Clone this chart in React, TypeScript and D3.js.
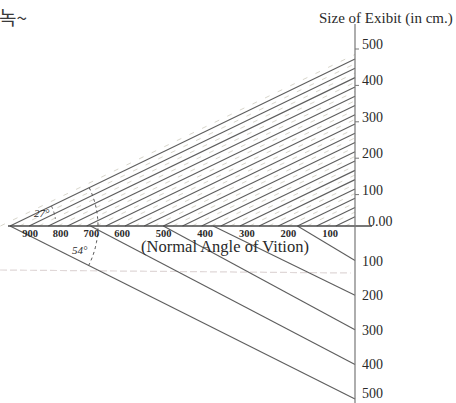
import React from "react";
import * as d3 from "d3";

// ---- data ----
const baselineDistances = [900, 800, 700, 600, 500, 400, 300, 200, 100];
const upperSizes = [0, 100, 200, 300, 400, 500];
const lowerSizes = [100, 200, 300, 400, 500];
const guideDistances = [50, 100, 150, 200, 250, 300, 350, 400, 450, 500, 550, 600, 650, 700, 750, 800, 850, 900];
const faintDistances = [25, 75, 125, 175, 225, 275, 325, 375, 425, 475, 525, 575, 625, 675, 725, 775, 825, 875, 925];
const lowerStartDistances = [150, 370, 500, 690, 900];
const halfAngleDeg = 27;
const fullAngleDeg = 54;

const W = 456;
const H = 403;

export default function App() {
  const tanA = Math.tan((halfAngleDeg * Math.PI) / 180);
  const xDist = d3.scaleLinear().domain([0, 900]).range([355, 10]);
  const xLabel = d3.scaleLinear().domain([900, 600, 100]).range([30, 122, 330]);
  const yUp = d3.scaleLinear().domain([0, 500]).range([226, 44]);
  const yDown = d3.scaleLinear().domain([0, 500]).range([226, 399]);

  const ax = xDist(0);
  const by = yUp(0);
  const apexX = xDist(900);

  const line = d3.line<[number, number]>();
  const serif = "'Liberation Serif', 'DejaVu Serif', serif";
  const lineColor = "#5e5e5e";
  const textColor = "#2a2a2a";

  // angles in pixel space
  const upAng = Math.atan2(yUp(900 * tanA) - by, ax - apexX);
  const downAng = Math.atan2(yDown(500) - by, ax - apexX);
  const arcPath = (r: number, a0: number, a1: number) => {
    const pts: [number, number][] = d3.range(0, 31).map((i) => {
      const a = a0 + ((a1 - a0) * i) / 30;
      return [apexX + r * Math.cos(a), by + r * Math.sin(a)];
    });
    return line(pts) || "";
  };

  return (
    <svg
      width={W}
      height={H}
      style={{ position: "absolute", left: 0, top: 0, background: "#fff" }}
    >
      {/* top-left fragment */}
      <text x={-1} y={25} fontFamily="'Noto Sans CJK KR'" fontSize={19} fill="#3a3a3a">
        녹~
      </text>

      {/* faint dashed guides */}
      {faintDistances.map((d) => (
        <path
          key={"f" + d}
          d={line([
            [xDist(d), by],
            [ax, yUp(d * tanA)],
          ]) || ""}
          stroke="#d8d6cc"
          strokeWidth={1}
          strokeDasharray="5 9"
          fill="none"
        />
      ))}

      {/* faint horizontal dashed line */}
      <path
        d={line([
          [0, 270],
          [ax - 4, 273],
        ]) || ""}
        stroke="#e0d8d8"
        strokeWidth={1.2}
        strokeDasharray="7 3"
        fill="none"
      />

      {/* upper guide lines */}
      {guideDistances.map((d) => (
        <path
          key={"g" + d}
          d={line([
            [xDist(d), by],
            [ax, yUp(d * tanA)],
          ]) || ""}
          stroke={lineColor}
          strokeWidth={1.15}
          fill="none"
        />
      ))}

      {/* lower lines */}
      {lowerSizes.map((s, i) => (
        <path
          key={"l" + s}
          d={line([
            [xDist(lowerStartDistances[i]), by],
            [ax, yDown(s)],
          ]) || ""}
          stroke={lineColor}
          strokeWidth={1.15}
          fill="none"
        />
      ))}

      {/* baseline */}
      <path
        d={line([
          [apexX - 2, by],
          [ax + 17, by],
        ]) || ""}
        stroke="#4a4a4a"
        strokeWidth={1.4}
        fill="none"
      />

      {/* vertical axis */}
      <path
        d={line([
          [ax, 24],
          [ax, H],
        ]) || ""}
        stroke="#777"
        strokeWidth={1.2}
        fill="none"
      />

      {/* angle arcs */}
      <path d={arcPath(88, upAng, downAng)} stroke="#555" strokeWidth={1} strokeDasharray="3 3" fill="none" />
      <path d={arcPath(46, upAng, upAng * 0.35)} stroke="#555" strokeWidth={1} strokeDasharray="3 3" fill="none" />
      <text x={34} y={217} fontFamily={serif} fontSize={11} fill={textColor} fontStyle="italic">
        {halfAngleDeg}°
      </text>
      <text x={72} y={254} fontFamily={serif} fontSize={11} fill={textColor} fontStyle="italic">
        {fullAngleDeg}°
      </text>

      {/* baseline labels */}
      {baselineDistances.map((d) => (
        <text
          key={"b" + d}
          x={xLabel(d)}
          y={by + 10.5}
          textAnchor="middle"
          fontFamily={serif}
          fontSize={10.5}
          fontWeight="bold"
          fill={textColor}
        >
          {d}
        </text>
      ))}
      <text x={225} y={252} textAnchor="middle" fontFamily={serif} fontSize={16.5} fill={textColor}>
        (Normal Angle of Vition)
      </text>

      {/* upper size ticks & labels */}
      {upperSizes.map((v) =>
        v === 0 ? (
          <text key="u0" x={ax + 13} y={by - 0.5} fontFamily={serif} fontSize={14} fill={textColor}>
            0.00
          </text>
        ) : (
          <g key={"u" + v}>
            <path d={line([[ax, yUp(v) + 5], [ax + 4, yUp(v) + 5]]) || ""} stroke="#777" strokeWidth={1} />
            <text x={ax + 7} y={yUp(v) + 5} fontFamily={serif} fontSize={14} fill={textColor}>
              {v}
            </text>
          </g>
        )
      )}

      {/* lower size labels */}
      {lowerSizes.map((v) => (
        <text
          key={"d" + v}
          x={ax + 7}
          y={Math.min(yDown(v) + 5, H - 5)}
          fontFamily={serif}
          fontSize={14}
          fill={textColor}
        >
          {v}
        </text>
      ))}

      {/* axis title */}
      <text x={319} y={23} fontFamily={serif} fontSize={15} fill={textColor}>
        Size of  Exibit (in cm.)
      </text>
    </svg>
  );
}
